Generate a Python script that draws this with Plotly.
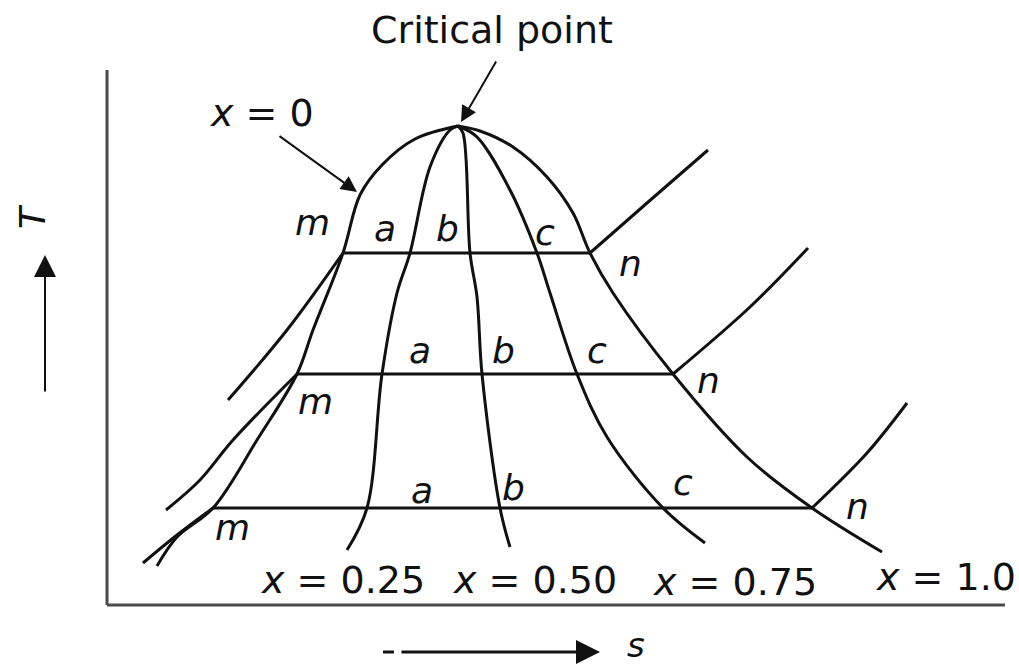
import plotly.graph_objects as go

# --- T-s diagram: saturation dome, constant-quality lines, three isobars ---
# Entropy (s) and temperature (T) in drawing units.

# Saturated liquid line (x = 0), from the low-temperature end up to the critical point
s_liq = [157, 177, 213, 257, 297, 313, 343, 360, 382, 415, 458]
T_liq = [102, 131, 160, 228, 294, 338, 415, 473, 503, 529, 542]

# Saturated vapour line (x = 1.0), from the critical point down
s_vap = [458, 480, 513, 547, 573, 590, 613, 673, 747, 812, 882]
T_vap = [542, 537, 521, 491, 455, 415, 375, 294, 211, 160, 116]

# Constant-quality lines inside the dome
s_q25 = [458, 450, 430, 410, 397, 382, 367, 347]
T_q25 = [542, 538, 501, 415, 375, 294, 160, 118]

s_q50 = [458, 463, 470, 477, 482, 500, 510]
T_q50 = [542, 535, 415, 371, 294, 160, 121]

s_q75 = [458, 477, 510, 537, 550, 577, 607, 663, 705]
T_q75 = [542, 531, 478, 415, 375, 294, 231, 160, 125]

# Isobars: saturation temperature, and entropy at points m (x = 0) and n (x = 1)
T_sat = [415, 294, 160]
s_m = [343, 297, 213]
s_n = [590, 673, 812]

# Compressed-liquid parts of the isobars (ending at m)
s_liq_p = [[228, 287, 343], [166, 200, 233, 297], [143, 177, 213]]
T_liq_p = [[268, 338, 415], [158, 188, 228, 294], [105, 133, 160]]

# Superheated parts of the isobars (starting at n)
s_sup_p = [[590, 647, 708], [673, 750, 808], [812, 867, 907]]
T_sup_p = [[415, 465, 518], [294, 361, 420], [160, 215, 265]]

# Point labels along each isobar
lbl_a = [(385, 440), (420, 318), (422, 178)]
lbl_b = [(447, 440), (503, 318), (513, 181)]
lbl_c = [(545, 436), (597, 318), (683, 186)]
lbl_m = [(312, 446), (315, 267), (232, 141)]
lbl_n = [(630, 405), (708, 288), (857, 162)]

quality_text = ["<i>x</i> = 0.25", "<i>x</i> = 0.50", "<i>x</i> = 0.75", "<i>x</i> = 1.0"]
quality_pos = [(343, 88), (535, 88), (735, 86), (946, 91)]

INK = "#111111"
FONT = "DejaVu Sans"
LW = 3

fig = go.Figure()


def curve(s, T, width=LW, shape="spline"):
    fig.add_trace(go.Scatter(
        x=s, y=T, mode="lines",
        line=dict(color=INK, width=width, shape=shape, smoothing=1.0),
        hoverinfo="skip", showlegend=False,
    ))


curve(s_liq, T_liq)
curve(s_vap, T_vap)
curve(s_q25, T_q25)
curve(s_q50, T_q50)
curve(s_q75, T_q75)

for i, T in enumerate(T_sat):
    curve([s_m[i], s_n[i]], [T, T], shape="linear")
    curve(s_liq_p[i], T_liq_p[i])
    curve(s_sup_p[i], T_sup_p[i])

# Axis frame
AX = "#4a4a4a"
fig.add_shape(type="line", x0=107, y0=63, x1=107, y1=598,
              line=dict(color=AX, width=3))
fig.add_shape(type="line", x0=107, y0=63, x1=1005, y1=63,
              line=dict(color=AX, width=3))
# short dash in front of the s arrow
fig.add_shape(type="line", x0=383, y0=16, x1=394, y1=16,
              line=dict(color=INK, width=3))

ann = []


def text(x, y, t, size=36, angle=0, yanchor="middle"):
    ann.append(dict(x=x, y=y, xref="x", yref="y", text=t, showarrow=False,
                    xanchor="center", yanchor=yanchor, textangle=angle,
                    font=dict(family=FONT, size=size, color=INK)))


def arrow(x0, y0, x1, y1, width=2, size=1.6):
    ann.append(dict(x=x1, y=y1, ax=x0, ay=y0, xref="x", yref="y",
                    axref="x", ayref="y", text="", showarrow=True,
                    arrowhead=2, arrowsize=size, arrowwidth=width,
                    arrowcolor=INK, standoff=0, startstandoff=0))


for lbls, ch in [(lbl_a, "a"), (lbl_b, "b"), (lbl_c, "c"), (lbl_m, "m"), (lbl_n, "n")]:
    for (x, y) in lbls:
        text(x, y, f"<i>{ch}</i>", size=36)

for t, (x, y) in zip(quality_text, quality_pos):
    text(x, y, t, size=38)

text(492, 638, "Critical point", size=38)
arrow(497, 608, 461, 546)
text(262, 555, "<i>x</i> = 0", size=38)
arrow(278, 533, 357, 476)

# Axis titles with direction arrows
text(32, 451, "<i>T</i>", size=36, angle=-90)
arrow(45, 275, 45, 413, width=2, size=2.2)
text(636, 1, "<i>s</i>", size=34, yanchor="bottom")
arrow(400, 16, 600, 16, width=3, size=1.6)

fig.update_layout(
    width=1019, height=668,
    margin=dict(l=0, r=0, t=0, b=0),
    paper_bgcolor="white", plot_bgcolor="white",
    xaxis=dict(range=[0, 1019], visible=False, fixedrange=True),
    yaxis=dict(range=[0, 668], visible=False, fixedrange=True),
    annotations=ann,
    showlegend=False,
)

fig.write_html("out.html")
